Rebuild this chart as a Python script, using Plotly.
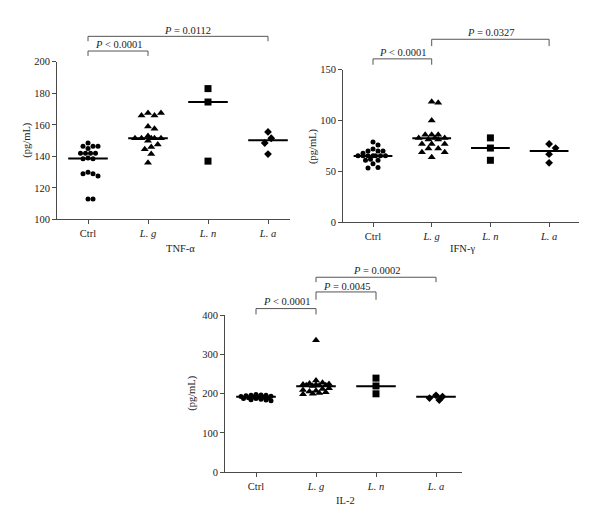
import math
import plotly.graph_objects as go

W, H = 600, 532

# ---------------- data ----------------
categories = ["Ctrl", "L. g", "L. n", "L. a"]
cat_labels = ["Ctrl", "<i>L. g</i>", "<i>L. n</i>", "<i>L. a</i>"]

tnf_ctrl = [148.5, 146.5, 146.5, 146.5, 145, 142, 142, 142, 142, 139, 138.5, 138.5,
            130, 129, 129, 127.5, 113, 113]
tnf_lg = [167.5, 166, 166, 167.5, 159, 157.5, 153, 151.5, 151.5, 151.5, 151.5, 151.5,
          150, 147.5, 146, 144.5, 141.5, 136]
tnf_ln = [183, 174.5, 137]
tnf_la = [155.5, 151.5, 148.5, 141.5]
tnf_medians = [138.7, 151.5, 174.5, 150.3]

ifn_ctrl = [79, 76, 72, 70, 70, 70, 68, 65.5, 65.5, 65.5, 65.5, 65.5, 65.5, 65.5,
            62, 61, 61, 57.5, 54, 53.5]
ifn_lg = [118.5, 117.5, 100, 86, 86, 86, 83, 83, 83, 81.5, 81.5, 77, 77, 77,
          72.5, 72.5, 69, 69, 64]
ifn_ln = [83, 73, 61]
ifn_la = [77, 73, 67, 58.5]
ifn_medians = [65.3, 82.7, 73, 70.2]

il2_ctrl = [198, 197, 196, 196, 195, 194, 193, 192, 192, 191, 190, 189, 188, 188,
            186, 185, 184, 182]
il2_lg = [337, 234, 228, 226, 225, 224, 223, 222, 222, 221, 220, 214, 212, 210,
          208, 206, 204, 202, 200, 199]
il2_ln = [240, 220, 200]
il2_la = [196, 193, 189, 184]
il2_medians = [192.5, 219, 219, 192.5]

tnf_ticks = [100, 120, 140, 160, 180, 200]
ifn_ticks = [0, 50, 100, 150]
il2_ticks = [0, 100, 200, 300, 400]

# significance brackets: (from category, to category, label)
tnf_brackets = [(0, 1, "<i>P</i> < 0.0001"), (0, 3, "<i>P</i> = 0.0112")]
ifn_brackets = [(0, 1, "<i>P</i> < 0.0001"), (1, 3, "<i>P</i> = 0.0327")]
il2_brackets = [(0, 1, "<i>P</i> < 0.0001"), (1, 2, "<i>P</i> = 0.0045"), (1, 3, "<i>P</i> = 0.0002")]

# ---------------- layout geometry (pixels) ----------------
FONT = "Liberation Serif"
FS = 10.5
AX = "#4a4a4a"
panels = [
    dict(xid="x", yid="y", groups=[tnf_ctrl, tnf_lg, tnf_ln, tnf_la], med=tnf_medians,
         ticks=tnf_ticks, yr=[100, 200], px_x=[57, 290], px_y=[58, 219], cat0=88, catstep=60,
         title="TNF-α", title_xy=(180, 249), ylab_x=27,
         brackets=tnf_brackets, br_y=[(47, 52, 40), (32, 37, 26)], br_tx=[0.5, 1.65]),
    dict(xid="x2", yid="y2", groups=[ifn_ctrl, ifn_lg, ifn_ln, ifn_la], med=ifn_medians,
         ticks=ifn_ticks, yr=[0, 150], px_x=[343, 579], px_y=[66, 222], cat0=373, catstep=58.7,
         title="IFN-γ", title_xy=(463, 249), ylab_x=313,
         brackets=ifn_brackets, br_y=[(55, 61, 49), (35, 42, 28)], br_tx=[0.5, 2.0]),
    dict(xid="x3", yid="y3", groups=[il2_ctrl, il2_lg, il2_ln, il2_la], med=il2_medians,
         ticks=il2_ticks, yr=[0, 400], px_x=[225, 462], px_y=[317, 477], cat0=256, catstep=60,
         title="IL-2", title_xy=(345, 506), ylab_x=192,
         brackets=il2_brackets, br_y=[(310, 316, 303), (293, 301, 287), (278, 283, 271)],
         br_tx=[0.5, 1.5, 2.0]),
]

symbols = ["circle", "triangle-up", "square", "diamond"]
sizes = [5, 7, 7, 6]
diam = [5.0, 6.5, 8.0, 6.5]


def swarm(vals, ppu, d, maxw):
    placed = []
    offs = []
    n = int(2 * maxw / d)
    cands = sorted([k * d / 2 for k in range(-n, n + 1)], key=lambda o: (abs(o), o < 0))
    for v in vals:
        y = v * ppu
        best, bestscore = 0, -1
        for o in cands:
            md = min([math.hypot(o - px, y - py) for px, py in placed], default=1e9)
            if md >= d:
                best = o
                break
            if md > bestscore:
                bestscore, best = md, o
        placed.append((best, y))
        offs.append(best)
    return offs


fig = go.Figure()
shapes = []
annotations = []
layout_axes = {}

for p in panels:
    x0, x1 = p["px_x"]
    ytop, ybot = p["px_y"]
    xr = [(x0 - p["cat0"]) / p["catstep"], (x1 - p["cat0"]) / p["catstep"]]
    ppu = (ybot - ytop) / (p["yr"][1] - p["yr"][0])
    xkey = "xaxis" + p["xid"][1:]
    ykey = "yaxis" + p["yid"][1:]
    common = dict(showline=True, linecolor=AX, linewidth=1, ticks="outside", ticklen=4,
                  tickcolor=AX, showgrid=False, zeroline=False,
                  tickfont=dict(family=FONT, size=FS, color="#222"))
    layout_axes[xkey] = dict(domain=[x0 / W, x1 / W], range=xr, anchor=p["yid"],
                             tickvals=[0, 1, 2, 3], ticktext=cat_labels, **common)
    layout_axes[ykey] = dict(domain=[1 - ybot / H, 1 - ytop / H], range=p["yr"],
                             anchor=p["xid"], tickvals=p["ticks"], **common)

    for i, vals in enumerate(p["groups"]):
        maxw = 16 if len(vals) > 5 else 10
        offs = swarm(vals, ppu, diam[i], maxw)
        fig.add_trace(go.Scatter(
            x=[i + o / p["catstep"] for o in offs], y=vals, mode="markers",
            xaxis=p["xid"], yaxis=p["yid"], showlegend=False, cliponaxis=False,
            marker=dict(symbol=symbols[i], size=sizes[i], color="black", line=dict(width=0))))
        fig.add_trace(go.Scatter(
            x=[i - 0.33, i + 0.33], y=[p["med"][i], p["med"][i]], mode="lines",
            xaxis=p["xid"], yaxis=p["yid"], showlegend=False,
            line=dict(color="black", width=2)))

    for (a, b, lab), (yl, ye, yt), tx in zip(p["brackets"], p["br_y"], p["br_tx"]):
        yl_p, ye_p, yt_p = 1 - yl / H, 1 - ye / H, 1 - yt / H
        for xs, ys in [((a, b), (yl_p, yl_p)), ((a, a), (yl_p, ye_p)), ((b, b), (yl_p, ye_p))]:
            shapes.append(dict(type="line", xref=p["xid"], yref="paper",
                               x0=xs[0], x1=xs[1], y0=ys[0], y1=ys[1],
                               line=dict(color="#555", width=1)))
        annotations.append(dict(text=lab, x=tx, y=yt_p, xref=p["xid"], yref="paper",
                                showarrow=False, xanchor="center", yanchor="middle",
                                font=dict(family=FONT, size=FS, color="#222")))

    annotations.append(dict(text=p["title"], x=p["title_xy"][0] / W, y=1 - p["title_xy"][1] / H,
                            xref="paper", yref="paper", showarrow=False,
                            xanchor="center", yanchor="middle",
                            font=dict(family=FONT, size=FS, color="#222")))
    annotations.append(dict(text="(pg/mL)", x=p["ylab_x"] / W, y=1 - (ytop + ybot) / 2 / H,
                            xref="paper", yref="paper", showarrow=False, textangle=-90,
                            xanchor="center", yanchor="middle",
                            font=dict(family=FONT, size=FS, color="#222")))

fig.update_layout(width=W, height=H, margin=dict(l=0, r=0, t=0, b=0),
                  paper_bgcolor="white", plot_bgcolor="white",
                  shapes=shapes, annotations=annotations, **layout_axes)

fig.write_html("out.html", config={"displayModeBar": False},
               post_script="document.body.style.margin='0px';document.body.style.overflow='hidden';")
